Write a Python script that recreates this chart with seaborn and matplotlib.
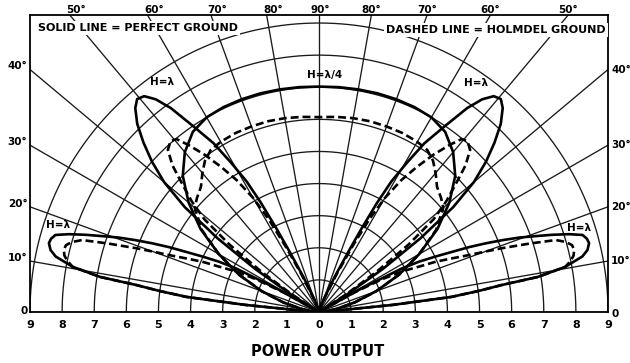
import numpy as np
import pandas as pd
import matplotlib
matplotlib.use("Agg")
import matplotlib.pyplot as plt
import seaborn as sns

# Vertical radiation patterns of a horizontal antenna, plotted as relative
# power output against elevation angle.  Each lobe is given for the right
# half (0-90 deg); the left half is its mirror image about the vertical.

# H = lambda/4, perfect ground (solid) and Holmdel ground (dashed)
quarter_theta_perfect = [0, 5, 10, 15, 20, 25, 30, 35, 40, 45, 50, 55, 60, 65, 70, 75, 80, 85, 90]
quarter_r_perfect = [0, 0.2, 0.55, 1.15, 1.9, 2.75, 3.6, 4.5, 5.3, 6.0, 6.5, 6.85, 7.0, 7.04, 7.05, 7.05, 7.04, 7.03, 7.02]

quarter_theta_holmdel = [0, 5, 10, 15, 20, 25, 30, 35, 40, 43, 46.7, 50, 53, 56.3, 60, 65, 70, 75, 80, 85, 90]
quarter_r_holmdel = [0, 0.2, 0.55, 1.15, 1.9, 2.75, 3.6, 4.45, 5.05, 5.2, 5.36, 5.65, 5.9, 6.07, 6.12, 6.15, 6.15, 6.15, 6.13, 6.1, 6.07]

# H = lambda, low-angle lobe (0-30 deg)
low_theta_perfect = [0, 5, 5.5, 6.5, 7.5, 8.4, 9.1, 10.4, 11.9, 13, 14.3, 15.3, 16.3, 17.3,
                     18.3, 19.3, 20.4, 21.4, 22.4, 23.4, 24.3, 25.5, 26.7, 27.7, 29, 30]
low_r_perfect = [0, 0.8, 2.3, 4.15, 5.0, 5.75, 6.9, 7.8, 8.38, 8.58, 8.68, 8.65, 8.55, 8.15,
                 7.66, 7.15, 6.65, 6.13, 5.61, 5.08, 4.56, 4.0, 3.49, 2.93, 1.5, 0]

low_theta_holmdel = [0, 5, 5.5, 6.5, 7.5, 8.4, 9.1, 10.4, 11.5, 12.5, 13.7, 14.8, 15.8, 16.9,
                     18, 19.2, 20, 20.8, 22, 23.3, 24.4, 26, 27.5, 29, 30]
low_r_holmdel = [0, 0.8, 2.3, 4.15, 5.0, 5.75, 6.9, 7.8, 8.0, 8.12, 8.18, 8.15, 8.0, 7.71,
                 6.9, 6.05, 5.5, 4.99, 4.45, 3.96, 3.42, 2.9, 2.2, 1.2, 0]

# H = lambda, high-angle lobe (30-90 deg)
high_theta_perfect = [30, 32, 34, 36, 38, 40, 42, 44, 46, 48, 49.5, 51, 52.5, 54, 56, 58,
                      59.5, 61, 62, 63, 64, 66, 70, 80, 90]
high_r_perfect = [0, 1.0, 2.4, 3.9, 5.3, 6.3, 7.0, 7.6, 8.15, 8.55, 8.72, 8.65, 8.35, 7.85,
                  6.95, 6.2, 5.4, 4.65, 3.85, 2.9, 2.1, 1.2, 0.4, 0.05, 0]

high_theta_holmdel = [30, 33, 35, 37, 39, 41, 43, 45, 47, 49, 50.5, 52, 54, 56, 58, 60,
                      61.5, 63, 65, 68, 75, 90]
high_r_holmdel = [0, 1.0, 2.2, 3.5, 4.6, 5.25, 5.8, 6.45, 6.9, 7.05, 6.98, 6.6, 6.05, 5.45,
                  4.85, 4.1, 3.3, 2.3, 1.3, 0.5, 0.1, 0]

power_ticks = list(range(-9, 10))
edge_angles = [0, 10, 20, 30, 40]
top_angles = [50, 60, 70, 80, 90]


def to_xy(theta, r):
    t = np.radians(np.asarray(theta, dtype=float))
    r = np.asarray(r, dtype=float)
    return r * np.cos(t), r * np.sin(t)


rows = []


def add_curve(theta, r, name, ground):
    x, y = to_xy(theta, r)
    for i, (xi, yi) in enumerate(zip(x, y)):
        rows.append({"x": xi, "y": yi, "curve": name, "ground": ground, "order": i})


for ground, th, rr in [("perfect", quarter_theta_perfect, quarter_r_perfect),
                       ("holmdel", quarter_theta_holmdel, quarter_r_holmdel)]:
    full_th = list(th) + [180 - a for a in reversed(th[:-1])]
    full_r = list(rr) + list(reversed(rr[:-1]))
    add_curve(full_th, full_r, "quarter_" + ground, ground)

for ground, th, rr, tag in [("perfect", low_theta_perfect, low_r_perfect, "low"),
                            ("holmdel", low_theta_holmdel, low_r_holmdel, "low"),
                            ("perfect", high_theta_perfect, high_r_perfect, "high"),
                            ("holmdel", high_theta_holmdel, high_r_holmdel, "high")]:
    add_curve(th, rr, f"{tag}_{ground}_right", ground)
    add_curve([180 - a for a in th], rr, f"{tag}_{ground}_left", ground)

df = pd.DataFrame(rows)

sns.set_theme(style="white")
plt.rcParams["font.family"] = ["DejaVu Sans"]
plt.rcParams["text.color"] = "black"
plt.rcParams["xtick.color"] = "black"
plt.rcParams["xtick.labelcolor"] = "black"

W, H = 630, 363
fig = plt.figure(figsize=(W / 100, H / 100), dpi=100)
ax = fig.add_axes([30 / W, 51 / H, 578 / W, 297 / H])
XMAX, YMAX = 9.0, 9.25
ax.set_xlim(-XMAX, XMAX)
ax.set_ylim(0, YMAX)

grid_kw = dict(color="#1a1a1a", lw=0.95, zorder=1, solid_capstyle="butt")
phi = np.linspace(0, np.pi, 721)
for ring in range(1, 10):
    ax.plot(ring * np.cos(phi), ring * np.sin(phi), **grid_kw)
for a in range(0, 181, 10):
    t = np.radians(a)
    ax.plot([0, 20 * np.cos(t)], [0, 20 * np.sin(t)], **grid_kw)

sns.lineplot(data=df, x="x", y="y", units="curve", style="ground",
             dashes={"perfect": "", "holmdel": (3.0, 1.5)},
             estimator=None, sort=False, color="black", lw=1.9,
             legend=False, ax=ax, zorder=3)

for s in ax.spines.values():
    s.set_visible(True)
    s.set_color("black")
    s.set_linewidth(1.3)

ax.set_xticks(power_ticks)
ax.set_xticklabels([str(abs(v)) for v in power_ticks])
ax.set_yticks([])
ax.tick_params(axis="x", length=0, pad=6, labelsize=8, labelcolor="black")
for lab in ax.get_xticklabels():
    lab.set_fontweight("bold")
ax.set_xlabel("")
ax.set_ylabel("")

lbl = dict(fontsize=7.5, fontweight="bold", color="black", clip_on=False)
# angle labels where the radial lines meet the frame
for a in top_angles:
    xi = YMAX / np.tan(np.radians(a)) if a != 90 else 0.0
    ax.text(-xi + (0.2 if a != 90 else 0.05), YMAX + 0.17, f"{a}°", ha="center", va="center", **lbl)
    if a != 90:
        ax.text(xi, YMAX + 0.17, f"{a}°", ha="center", va="center", **lbl)
for a in edge_angles:
    yi = XMAX * np.tan(np.radians(a))
    txt = "0" if a == 0 else f"{a}°"
    ax.text(-XMAX - 0.08, yi + (0.1 if a else 0.03), txt, ha="right", va="center", **lbl)
    ax.text(XMAX + 0.1, yi + (0.0 if a else -0.06), txt, ha="left", va="center", **lbl)

box = dict(facecolor="white", edgecolor="none", pad=1.5)
ax.text(-8.75, 8.85, "SOLID LINE = PERFECT GROUND", ha="left", va="center", color="black",
        fontsize=8, fontweight="bold", bbox=box, zorder=5)
ax.text(8.93, 8.79, "DASHED LINE = HOLMDEL GROUND", ha="right", va="center", color="black",
        fontsize=8, fontweight="bold", bbox=box, zorder=5)

hk = dict(ha="center", va="center", fontsize=7.5, fontweight="bold", color="black", zorder=5)
ax.text(-4.89, 7.17, "H=λ", **hk)
ax.text(4.89, 7.13, "H=λ", **hk)
ax.text(0.16, 7.38, "H=λ/4", **hk)
ax.text(-8.13, 2.71, "H=λ", **hk)
ax.text(8.1, 2.62, "H=λ", **hk)

fig.text(318 / W, 1 - 352 / H, "POWER OUTPUT", ha="center", va="center",
         fontsize=10.5, fontweight="bold", color="black")

fig.savefig("out.png", dpi=100)
